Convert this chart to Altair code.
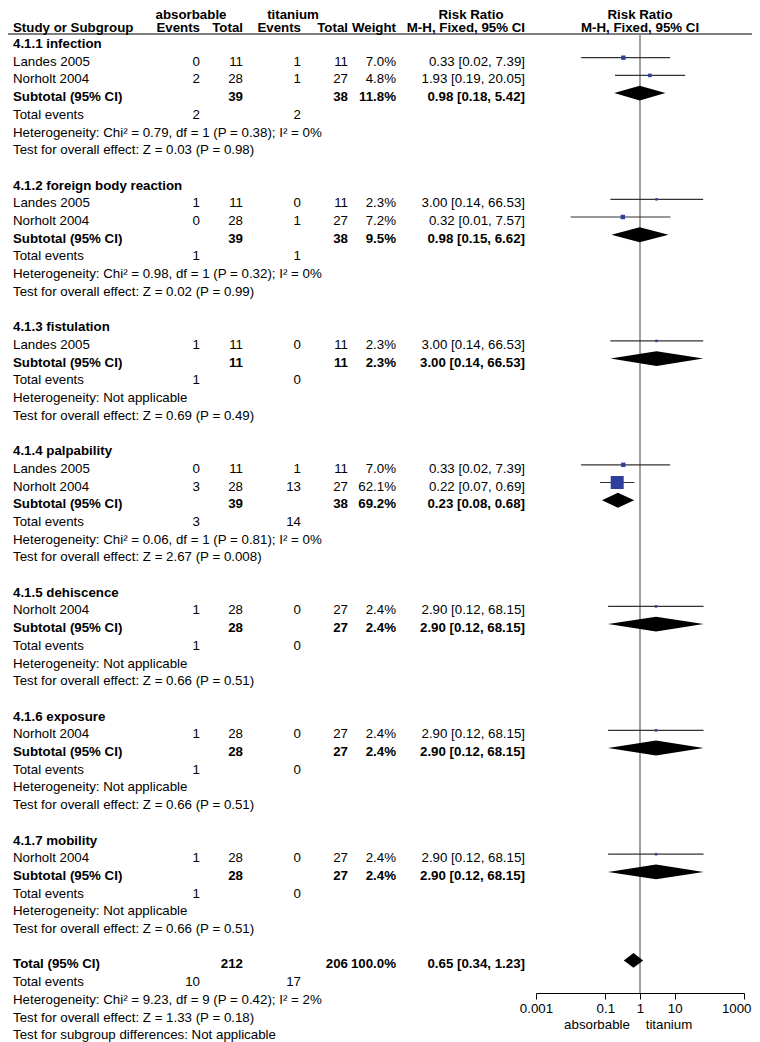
import altair as alt
import pandas as pd

# ---------------- data ----------------
groups = ["4.1.1 infection", "4.1.2 foreign body reaction", "4.1.3 fistulation",
          "4.1.4 palpability", "4.1.5 dehiscence", "4.1.6 exposure", "4.1.7 mobility"]

study_group = [0, 0, 1, 1, 2, 3, 3, 4, 5, 6]
study_name = ["Landes 2005", "Norholt 2004", "Landes 2005", "Norholt 2004", "Landes 2005",
              "Landes 2005", "Norholt 2004", "Norholt 2004", "Norholt 2004", "Norholt 2004"]
study_ev1 = [0, 2, 1, 0, 1, 0, 3, 1, 1, 1]
study_n1 = [11, 28, 11, 28, 11, 11, 28, 28, 28, 28]
study_ev2 = [1, 1, 0, 1, 0, 1, 13, 0, 0, 0]
study_n2 = [11, 27, 11, 27, 11, 11, 27, 27, 27, 27]
study_w = [7.0, 4.8, 2.3, 7.2, 2.3, 7.0, 62.1, 2.4, 2.4, 2.4]
study_rr = [0.33, 1.93, 3.00, 0.32, 3.00, 0.33, 0.22, 2.90, 2.90, 2.90]
study_lo = [0.02, 0.19, 0.14, 0.01, 0.14, 0.02, 0.07, 0.12, 0.12, 0.12]
study_hi = [7.39, 20.05, 66.53, 7.57, 66.53, 7.39, 0.69, 68.15, 68.15, 68.15]

sub_n1 = [39, 39, 11, 39, 28, 28, 28]
sub_n2 = [38, 38, 11, 38, 27, 27, 27]
sub_w = [11.8, 9.5, 2.3, 69.2, 2.4, 2.4, 2.4]
sub_rr = [0.98, 0.98, 3.00, 0.23, 2.90, 2.90, 2.90]
sub_lo = [0.18, 0.15, 0.14, 0.08, 0.12, 0.12, 0.12]
sub_hi = [5.42, 6.62, 66.53, 0.68, 68.15, 68.15, 68.15]
sub_te1 = [2, 1, 1, 3, 1, 1, 1]
sub_te2 = [2, 1, 0, 14, 0, 0, 0]
sub_het = ["Heterogeneity: Chi\u00b2 = 0.79, df = 1 (P = 0.38); I\u00b2 = 0%",
           "Heterogeneity: Chi\u00b2 = 0.98, df = 1 (P = 0.32); I\u00b2 = 0%",
           "Heterogeneity: Not applicable",
           "Heterogeneity: Chi\u00b2 = 0.06, df = 1 (P = 0.81); I\u00b2 = 0%",
           "Heterogeneity: Not applicable",
           "Heterogeneity: Not applicable",
           "Heterogeneity: Not applicable"]
sub_test = ["Test for overall effect: Z = 0.03 (P = 0.98)",
            "Test for overall effect: Z = 0.02 (P = 0.99)",
            "Test for overall effect: Z = 0.69 (P = 0.49)",
            "Test for overall effect: Z = 2.67 (P = 0.008)",
            "Test for overall effect: Z = 0.66 (P = 0.51)",
            "Test for overall effect: Z = 0.66 (P = 0.51)",
            "Test for overall effect: Z = 0.66 (P = 0.51)"]

total_n1, total_n2, total_w = 212, 206, 100.0
total_rr, total_lo, total_hi = 0.65, 0.34, 1.23
total_te1, total_te2 = 10, 17
total_notes = ["Heterogeneity: Chi\u00b2 = 9.23, df = 9 (P = 0.42); I\u00b2 = 2%",
               "Test for overall effect: Z = 1.33 (P = 0.18)",
               "Test for subgroup differences: Not applicable"]

header_top = ["absorbable", "titanium", "Risk Ratio", "Risk Ratio"]
header_cols = ["Study or Subgroup", "Events", "Total", "Events", "Total", "Weight",
               "M-H, Fixed, 95% CI", "M-H, Fixed, 95% CI"]
axis_ticks = [0.001, 0.1, 1, 10, 1000]
axis_sides = ["absorbable", "titanium"]

# ---------------- layout constants ----------------
W, H = 744, 985
ROW_H, TOP = 17.7, 36.0
DH = 0.42          # diamond half height in rows
FONT = "Liberation Sans"
FS = 13.3
HEAD_Y = {-2: 7, -1: 20}

COLS = {  # x position, align
    "label": (5, "left"), "ev1": (192, "right"), "n1": (235, "right"),
    "ev2": (293, "right"), "n2": (340, "right"), "w": (388, "right"),
    "ci": (517, "right"),
    "h_abs": (183, "center"), "h_tit": (285, "center"),
    "h_rr1": (463, "center"), "h_rr2": (632, "center"), "h_mh2": (632, "center"),
}

# ---------------- assemble table ----------------
cells, heads, studies, dia = [], [], [], []


def add(r, col, text, bold=False):
    cells.append(dict(row=r, col=col, text=str(text), bold=bold))


def ci_txt(rr, lo, hi):
    return f"{rr:.2f} [{lo:.2f}, {hi:.2f}]"


for col, t in zip(["h_abs", "h_tit", "h_rr1", "h_rr2"], header_top):
    heads.append(dict(row=-2, col=col, text=t))
for col, t in zip(["label", "ev1", "n1", "ev2", "n2", "w", "ci", "h_mh2"], header_cols):
    heads.append(dict(row=-1, col=col, text=t))

r = 0
for g, gname in enumerate(groups):
    add(r, "label", gname, True)
    r += 1
    for i in range(len(study_name)):
        if study_group[i] != g:
            continue
        add(r, "label", study_name[i])
        add(r, "ev1", study_ev1[i])
        add(r, "n1", study_n1[i])
        add(r, "ev2", study_ev2[i])
        add(r, "n2", study_n2[i])
        add(r, "w", f"{study_w[i]:.1f}%")
        add(r, "ci", ci_txt(study_rr[i], study_lo[i], study_hi[i]))
        studies.append(dict(row=r, rr=study_rr[i], lo=study_lo[i], hi=study_hi[i], w=study_w[i]))
        r += 1
    add(r, "label", "Subtotal (95% CI)", True)
    add(r, "n1", sub_n1[g], True)
    add(r, "n2", sub_n2[g], True)
    add(r, "w", f"{sub_w[g]:.1f}%", True)
    add(r, "ci", ci_txt(sub_rr[g], sub_lo[g], sub_hi[g]), True)
    for xv, d in [(sub_lo[g], 0), (sub_rr[g], DH), (sub_hi[g], 0)]:
        dia.append(dict(id=g, x=xv, y=r - d, y2=r + d))
    r += 1
    add(r, "label", "Total events")
    add(r, "ev1", sub_te1[g])
    add(r, "ev2", sub_te2[g])
    r += 1
    add(r, "label", sub_het[g])
    r += 1
    add(r, "label", sub_test[g])
    r += 2

add(r, "label", "Total (95% CI)", True)
add(r, "n1", total_n1, True)
add(r, "n2", total_n2, True)
add(r, "w", f"{total_w:.1f}%", True)
add(r, "ci", ci_txt(total_rr, total_lo, total_hi), True)
for xv, d in [(total_lo, 0), (total_rr, DH), (total_hi, 0)]:
    dia.append(dict(id=99, x=xv, y=r - d, y2=r + d))
r += 1
add(r, "label", "Total events")
add(r, "ev1", total_te1)
add(r, "ev2", total_te2)
r += 1
for t in total_notes:
    add(r, "label", t)
    r += 1

df = pd.DataFrame(cells)
df_h = pd.DataFrame(heads)
df_st = pd.DataFrame(studies)
df_d = pd.DataFrame(dia)

YS = alt.Scale(domain=[-TOP / ROW_H, (H - TOP) / ROW_H], range=[0, H], nice=False, zero=False)
XS = alt.Scale(type="log", domain=[0.001, 1000], range=[528, 736], nice=False)
XAX = alt.Axis(values=axis_ticks, labelExpr="format(datum.value, '.3~f')", grid=False, title=None,
               domainColor="black", tickColor="black", labelColor="black", labelFont=FONT,
               labelFontSize=FS, tickSize=6, labelPadding=2, labelFlush=False, domainWidth=1,
               tickWidth=1,
               labelAlign={"condition": {"test": "datum.value >= 1000", "value": "right"},
                           "value": "center"},
               labelOffset={"condition": {"test": "datum.value >= 1000", "value": 7},
                            "value": 0})
Y = alt.Y("row:Q", scale=YS, axis=None)

layers = []
for (col, bold), sub in df.groupby(["col", "bold"]):
    x, align = COLS[col]
    layers.append(
        alt.Chart(sub).mark_text(align=align, baseline="middle", font=FONT, fontSize=FS,
                                 fontWeight="bold" if bold else "normal", color="black")
        .encode(x=alt.value(x), y=Y, text="text:N")
    )

for (col, hr), sub in df_h.groupby(["col", "row"]):
    x, align = COLS[col]
    layers.append(
        alt.Chart(sub).mark_text(align=align, baseline="middle", font=FONT, fontSize=FS,
                                 fontWeight="bold", color="black")
        .encode(x=alt.value(x), y=alt.value(HEAD_Y[hr]), text="text:N")
    )

underline = alt.Chart(df.head(1)).mark_rule(color="black", strokeWidth=1).encode(
    x=alt.value(0), x2=alt.value(W), y=alt.value(26))

vline = alt.Chart(df.head(1)).mark_rule(color="#8a8a8a", strokeWidth=1.6).encode(
    x=alt.datum(1, scale=XS, axis=XAX), y=alt.value(26), y2=alt.value(H))

ci = alt.Chart(df_st).mark_rule(color="#333333", strokeWidth=1.2, yOffset=-4).encode(
    x=alt.X("lo:Q", scale=XS, axis=XAX), x2="hi:Q", y=Y)

sq = alt.Chart(df_st).mark_square(color="#2e3f9c", opacity=1, yOffset=-4).encode(
    x=alt.X("rr:Q", scale=XS, axis=XAX), y=Y,
    size=alt.Size("w:Q", scale=alt.Scale(domain=[0, 62.1], range=[0, 169]), legend=None))

diam = alt.Chart(df_d).mark_area(color="black", opacity=1, yOffset=-4, y2Offset=-4).encode(
    x=alt.X("x:Q", scale=XS, axis=XAX), y=alt.Y("y:Q", scale=YS, axis=None), y2="y2:Q",
    detail="id:N")

side_layers = []
for t, px in zip(axis_sides, [589, 661]):
    side_layers.append(
        alt.Chart(pd.DataFrame({"t": [t]})).mark_text(
            font=FONT, fontSize=FS, color="black", baseline="middle", align="center")
        .encode(x=alt.value(px), y=alt.value(1017), text="t:N")
    )

chart = alt.layer(underline, vline, ci, sq, diam, *layers, *side_layers).properties(
    width=W, height=H,
    autosize=alt.AutoSizeParams(type="none"),
    padding={"left": 0, "top": 0, "right": 0, "bottom": 50},
).configure_view(stroke=None)

chart.save("out.html", embed_options={"renderer": "svg", "actions": False})
